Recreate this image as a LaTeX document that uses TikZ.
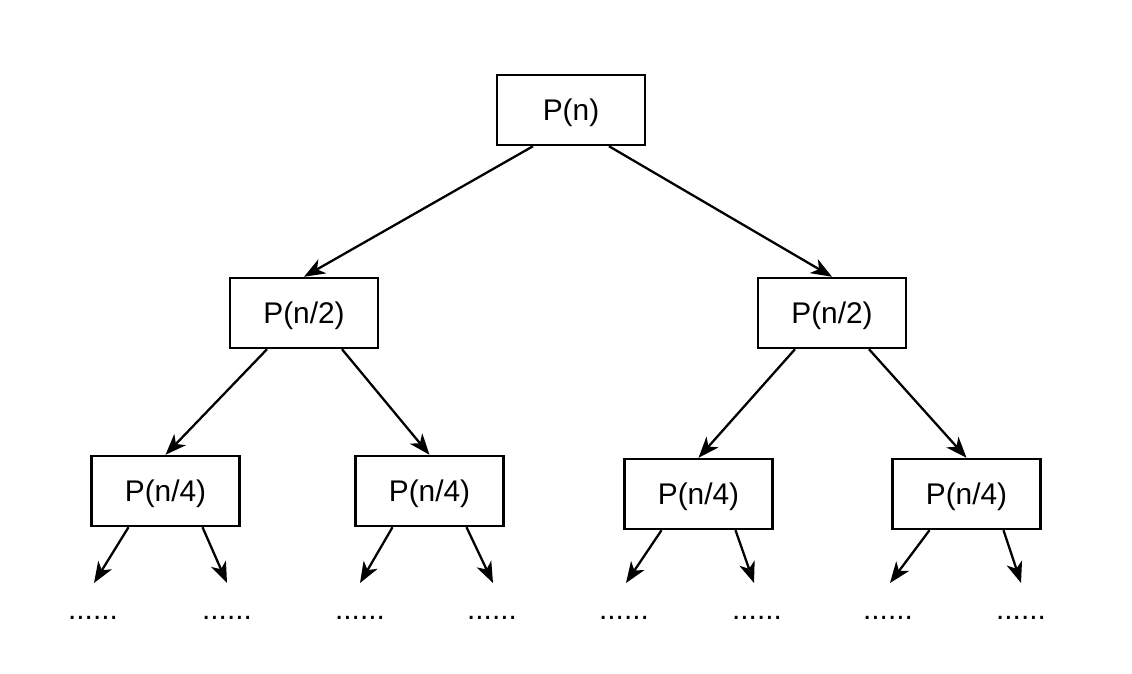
\documentclass[tikz,border=0pt]{standalone}
\usepackage{fontspec}
\setmainfont{Liberation Sans}
\usetikzlibrary{arrows.meta, calc}

\tikzset{
  box/.style={draw, line width=1.4pt, minimum width=2.96cm, minimum height=1.4cm,
    inner sep=0pt, text height=13pt, text depth=0.5pt,
    font=\fontsize{17}{19}\selectfont},
  arr/.style={-{Stealth[length=4.2mm, width=3.2mm, inset=1.2mm]}, line width=1.3pt},
  dots/.style={anchor=base, inner sep=0pt, font=\fontsize{17}{19}\selectfont}
}

\begin{document}
\begin{tikzpicture}[x=0.02cm, y=-0.02cm]

%% ---- canvas ----
\useasboundingbox (0,0) rectangle (1132,673);

%% ---- level 0 ----
\node[box] (pn) at (571,110) {P(n)};

%% ---- level 1 ----
\node[box] (pl) at (304,313) {P(n/2)};
\node[box] (pr) at (832,313) {P(n/2)};

%% ---- level 2 ----
\node[box] (q1) at (165.5,491) {P(n/4)};
\node[box] (q2) at (429.5,491) {P(n/4)};
\node[box] (q3) at (698.5,494) {P(n/4)};
\node[box] (q4) at (966.5,494) {P(n/4)};

%% ---- dots below ----
\foreach \x/\n in {93/d1,227/d2,360/d3,492/d4,624/d5,757/d6,888/d7,1021/d8} {
  \node[dots] (\n) at (\x,619) {......};
}

%% ---- free ends of the lowest arrows ----
\coordinate (e1) at (94,583);
\coordinate (e2) at (227,583);
\coordinate (e3) at (360,583);
\coordinate (e4) at (493,583);
\coordinate (e5) at (626,583);
\coordinate (e6) at (754,583);
\coordinate (e7) at (890,583);
\coordinate (e8) at (1021,583);

%% ---- arrows ----
\draw[arr] ($(pn.south)+(-38,0)$) -- (pl.north);
\draw[arr] ($(pn.south)+(38,0)$) -- (pr.north);

\draw[arr] ($(pl.south)+(-37,0)$) -- (q1.north);
\draw[arr] ($(pl.south)+(38,0)$) -- (q2.north);
\draw[arr] ($(pr.south)+(-37,0)$) -- (q3.north);
\draw[arr] ($(pr.south)+(37,0)$) -- (q4.north);

\foreach \q/\a/\b in {q1/e1/e2, q2/e3/e4, q3/e5/e6, q4/e7/e8} {
  \draw[arr] ($(\q.south)+(-37,0)$) -- (\a);
  \draw[arr] ($(\q.south)+(37,0)$) -- (\b);
}

\end{tikzpicture}
\end{document}
